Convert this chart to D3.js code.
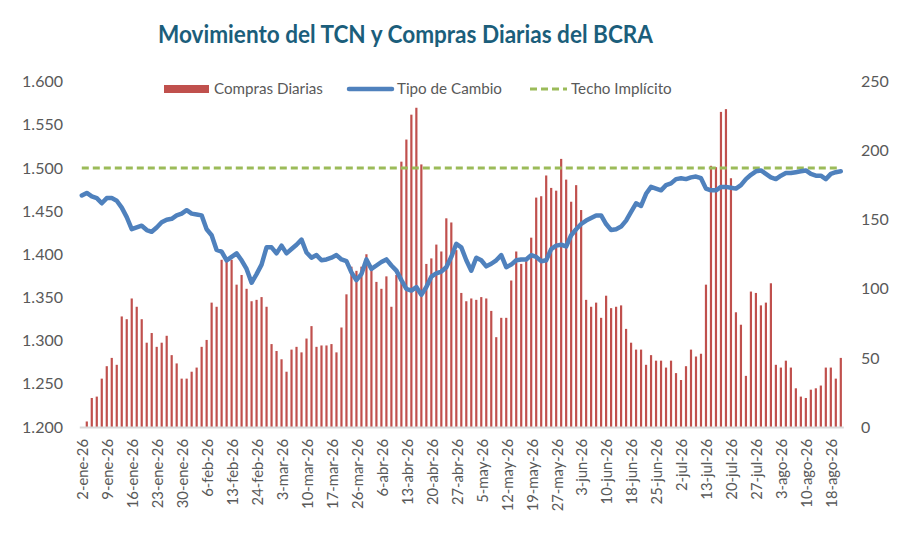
<!DOCTYPE html>
<html>
<head>
<meta charset="utf-8">
<script src="https://cdn.jsdelivr.net/npm/d3@7"></script>
<style>
  body { margin: 0; background: #fff; }
  svg { font-family: Lato, "Open Sans", sans-serif; }
</style>
</head>
<body>
<div id="chart"></div>
<script>
// business days, 2-ene-26 .. 20-ago-26
const categories = [
  "2-ene-26","5-ene-26","6-ene-26","7-ene-26","8-ene-26","9-ene-26","12-ene-26","13-ene-26","14-ene-26","15-ene-26",
  "16-ene-26","19-ene-26","20-ene-26","21-ene-26","22-ene-26","23-ene-26","26-ene-26","27-ene-26","28-ene-26","29-ene-26",
  "30-ene-26","2-feb-26","3-feb-26","4-feb-26","5-feb-26","6-feb-26","9-feb-26","10-feb-26","11-feb-26","12-feb-26",
  "13-feb-26","18-feb-26","19-feb-26","20-feb-26","23-feb-26","24-feb-26","25-feb-26","26-feb-26","27-feb-26","2-mar-26",
  "3-mar-26","4-mar-26","5-mar-26","6-mar-26","9-mar-26","10-mar-26","11-mar-26","12-mar-26","13-mar-26","16-mar-26",
  "17-mar-26","18-mar-26","19-mar-26","20-mar-26","25-mar-26","26-mar-26","27-mar-26","30-mar-26","31-mar-26","1-abr-26",
  "6-abr-26","7-abr-26","8-abr-26","9-abr-26","10-abr-26","13-abr-26","14-abr-26","15-abr-26","16-abr-26","17-abr-26",
  "20-abr-26","21-abr-26","22-abr-26","23-abr-26","24-abr-26","27-abr-26","28-abr-26","29-abr-26","30-abr-26","4-may-26",
  "5-may-26","6-may-26","7-may-26","8-may-26","11-may-26","12-may-26","13-may-26","14-may-26","15-may-26","18-may-26",
  "19-may-26","20-may-26","21-may-26","22-may-26","26-may-26","27-may-26","28-may-26","29-may-26","1-jun-26","2-jun-26",
  "3-jun-26","4-jun-26","5-jun-26","8-jun-26","9-jun-26","10-jun-26","11-jun-26","12-jun-26","16-jun-26","17-jun-26",
  "18-jun-26","19-jun-26","22-jun-26","23-jun-26","24-jun-26","25-jun-26","26-jun-26","29-jun-26","30-jun-26","1-jul-26",
  "2-jul-26","3-jul-26","6-jul-26","7-jul-26","8-jul-26","13-jul-26","14-jul-26","15-jul-26","16-jul-26","17-jul-26",
  "20-jul-26","21-jul-26","22-jul-26","23-jul-26","24-jul-26","27-jul-26","28-jul-26","29-jul-26","30-jul-26","31-jul-26",
  "3-ago-26","4-ago-26","5-ago-26","6-ago-26","7-ago-26","10-ago-26","11-ago-26","12-ago-26","13-ago-26","14-ago-26",
  "18-ago-26","19-ago-26","20-ago-26"
];

const tickLabels = [
  "2-ene-26","9-ene-26","16-ene-26","23-ene-26","30-ene-26","6-feb-26","13-feb-26","24-feb-26",
  "3-mar-26","10-mar-26","17-mar-26","26-mar-26","6-abr-26","13-abr-26","20-abr-26","27-abr-26",
  "5-may-26","12-may-26","19-may-26","27-may-26","3-jun-26","10-jun-26","18-jun-26","25-jun-26",
  "2-jul-26","13-jul-26","20-jul-26","27-jul-26","3-ago-26","10-ago-26","18-ago-26"
];

// millones de USD (eje derecho)
const compras = [
  0, 4, 21, 22, 35, 44, 50, 45, 80, 78,
  93, 87, 78, 61, 68, 58, 61, 66, 52, 46,
  35, 35, 40, 43, 58, 63, 90, 87, 121, 121,
  121, 103, 110, 100, 91, 92, 94, 87, 60, 55,
  49, 40, 56, 58, 54, 64, 73, 58, 59, 59,
  60, 54, 72, 96, 116, 113, 116, 125, 116, 105,
  100, 109, 87, 110, 192, 208, 226, 231, 190, 118,
  122, 132, 127, 151, 148, 128, 97, 91, 93, 92,
  94, 93, 84, 65, 79, 79, 106, 127, 118, 120,
  137, 166, 167, 182, 173, 171, 194, 179, 163, 175,
  157, 92, 87, 90, 79, 95, 86, 87, 88, 71,
  61, 56, 56, 45, 52, 48, 48, 43, 48, 39,
  34, 44, 56, 51, 53, 103, 189, 188, 228, 230,
  180, 83, 74, 37, 98, 97, 88, 90, 104, 45,
  43, 48, 43, 28, 22, 21, 27, 28, 30, 43,
  43, 35, 50
];

// pesos por dolar (eje izquierdo)
const tipoCambio = [
  1468, 1471, 1467, 1465, 1459, 1465, 1465, 1462, 1454, 1443,
  1429, 1431, 1433, 1428, 1426, 1431, 1437, 1440, 1441, 1445,
  1447, 1451, 1447, 1446, 1445, 1429, 1422, 1405, 1403, 1393,
  1397, 1401, 1393, 1383, 1367, 1377, 1388, 1408, 1408, 1401,
  1410, 1401, 1406, 1411, 1417, 1402, 1396, 1399, 1393, 1394,
  1396, 1399, 1394, 1392, 1379, 1370, 1377, 1394, 1383, 1387,
  1391, 1394, 1387, 1381, 1370, 1360, 1358, 1362, 1353, 1362,
  1374, 1378, 1380, 1385, 1397, 1412, 1408, 1393, 1381, 1396,
  1393, 1386, 1389, 1393, 1399, 1385, 1388, 1393, 1394, 1394,
  1399, 1397, 1392, 1393, 1406, 1410, 1411, 1409, 1422, 1429,
  1435, 1439, 1442, 1445, 1445, 1435, 1428, 1429, 1432, 1439,
  1449, 1459, 1456, 1470, 1478, 1476, 1474, 1480, 1482, 1487,
  1488, 1487, 1489, 1490, 1488, 1476, 1474, 1474, 1478, 1478,
  1477, 1476, 1480, 1487, 1492, 1496, 1497, 1493, 1489, 1487,
  1491, 1494, 1494, 1495, 1496, 1497, 1493, 1491, 1491, 1487,
  1493, 1495, 1496
];

// techo implicito, primer y ultimo dia
const techo = [1500, 1500];

const leftTicks = [1200, 1250, 1300, 1350, 1400, 1450, 1500, 1550, 1600];
const rightTicks = [0, 50, 100, 150, 200, 250];

const width = 910, height = 533;
const plot = { left: 79.3, right: 843.3, top: 81.5, bottom: 427 };
const textColor = "#595959";

const es = d3.formatLocale({ decimal: ",", thousands: ".", grouping: [3], currency: ["$", ""] });
const fmt = es.format(",");

const svg = d3.select("#chart").append("svg")
    .attr("width", width)
    .attr("height", height);

let x = d3.scaleBand()
    .domain(categories)
    .range([plot.left, plot.right])
    .padding(0);

let yLeft = d3.scaleLinear().domain([1200, 1600]).range([plot.bottom, plot.top]);
let yRight = d3.scaleLinear().domain([0, 250]).range([plot.bottom, plot.top]);

const barW = x.bandwidth() * 0.44;

// bars
svg.append("g")
    .selectAll("rect")
    .data(categories)
    .join("rect")
        .attr("x", (d) => x(d) + (x.bandwidth() - barW) / 2)
        .attr("y", (d, i) => yRight(compras[i]))
        .attr("width", barW)
        .attr("height", (d, i) => yRight(0) - yRight(compras[i]))
        .style("fill", "#C0504D");

// x axis
let xAxis = d3.axisBottom(x).tickValues(tickLabels).tickSize(0);
let gx = svg.append("g")
    .attr("transform", `translate(0,${plot.bottom})`)
    .call(xAxis);
gx.select(".domain").attr("stroke", "#D9D9D9").attr("stroke-width", 2);
gx.selectAll("text")
    .attr("transform", "rotate(-90)")
    .attr("x", -12)
    .attr("y", 1)
    .attr("dy", "0.36em")
    .style("text-anchor", "end")
    .style("font-family", "Lato")
    .style("font-size", "14.8px")
    .attr("fill", textColor);

// techo
const techoLine = d3.line()
    .x((d, i) => x(i === 0 ? categories[0] : categories[categories.length - 1]) + x.bandwidth() / 2)
    .y((d) => yLeft(d));
svg.append("path")
    .datum(techo)
    .attr("d", techoLine)
    .attr("fill", "none")
    .attr("stroke", "#9BBB59")
    .attr("stroke-width", 3)
    .attr("stroke-dasharray", "7,4");

// tipo de cambio
const tcLine = d3.line()
    .x((d, i) => x(categories[i]) + x.bandwidth() / 2)
    .y((d) => yLeft(d));
svg.append("path")
    .datum(tipoCambio)
    .attr("d", tcLine)
    .attr("fill", "none")
    .attr("stroke", "#4F81BD")
    .attr("stroke-width", 4.5)
    .attr("stroke-linejoin", "round")
    .attr("stroke-linecap", "round");

// y axes
let gl = svg.append("g")
    .attr("transform", "translate(63,0)")
    .call(d3.axisLeft(yLeft).tickValues(leftTicks).tickFormat(fmt).tickSize(0).tickPadding(0));
let gr = svg.append("g")
    .attr("transform", "translate(861,0)")
    .call(d3.axisRight(yRight).tickValues(rightTicks).tickSize(0).tickPadding(0));
[gl, gr].forEach((g) => {
    g.select(".domain").remove();
    g.selectAll("text")
        .style("font-family", "Lato")
        .style("font-size", "16px")
        .attr("fill", textColor);
});

// title
svg.append("text")
    .attr("x", 405.5)
    .attr("y", 43)
    .attr("text-anchor", "middle")
    .attr("textLength", 495)
    .attr("lengthAdjust", "spacingAndGlyphs")
    .style("font-family", "Lato")
    .style("font-weight", "bold")
    .style("font-size", "25px")
    .attr("fill", "#1B5E7B")
    .text("Movimiento del TCN y Compras Diarias del BCRA");

// legend
const legY = 89;
let leg = svg.append("g").style("font-family", "Lato").style("font-size", "15.2px").attr("fill", textColor);
leg.append("rect").attr("x", 164).attr("y", legY - 4).attr("width", 45).attr("height", 8).style("fill", "#C0504D");
leg.append("text").attr("x", 214).attr("y", legY).attr("dy", "0.35em").text("Compras Diarias");
leg.append("line").attr("x1", 349).attr("x2", 392).attr("y1", legY).attr("y2", legY)
    .attr("stroke", "#4F81BD").attr("stroke-width", 4.5).attr("stroke-linecap", "round");
leg.append("text").attr("x", 397).attr("y", legY).attr("dy", "0.35em").text("Tipo de Cambio");
leg.append("line").attr("x1", 530).attr("x2", 567).attr("y1", legY).attr("y2", legY)
    .attr("stroke", "#9BBB59").attr("stroke-width", 3).attr("stroke-dasharray", "7,4");
leg.append("text").attr("x", 571).attr("y", legY).attr("dy", "0.35em").text("Techo Implícito");
</script>
</body>
</html>
